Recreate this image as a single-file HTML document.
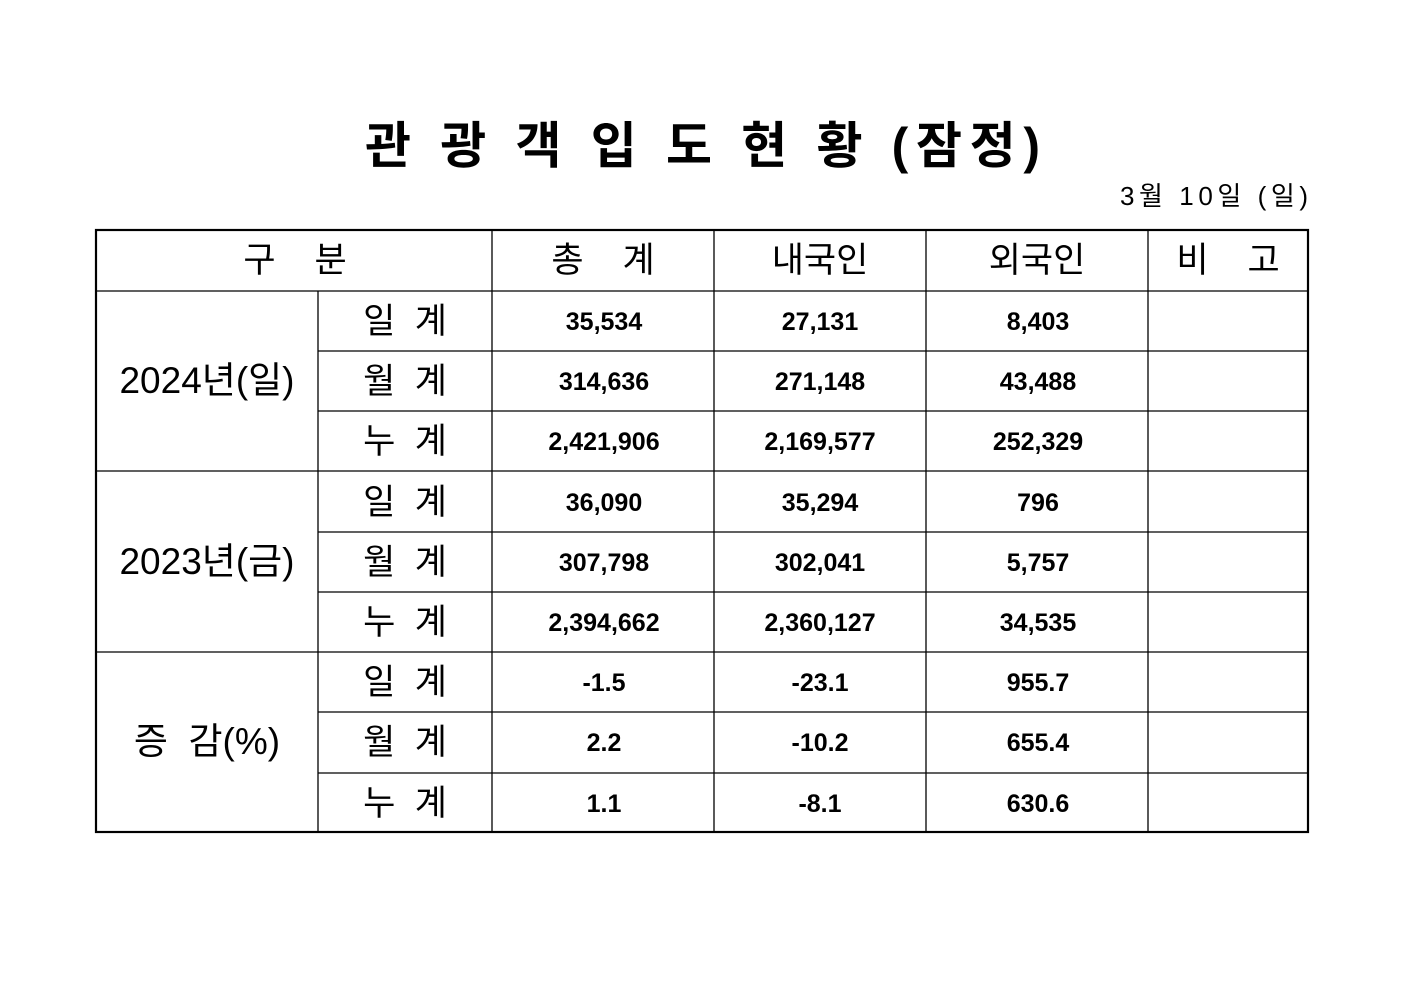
<!DOCTYPE html>
<html><head><meta charset="utf-8"><style>
html,body{margin:0;padding:0;background:#fff;}
svg{display:block}
text{font-family:"Liberation Sans","Noto Sans CJK KR","NanumGothic",sans-serif;fill:#000}
.h{font-size:35px}
.b{font-size:25px;font-weight:bold}
</style></head><body>
<svg width="1403" height="992" viewBox="0 0 1403 992" xmlns="http://www.w3.org/2000/svg">
<rect width="1403" height="992" fill="#fff"/>
<text x="365" y="163" font-size="50" font-weight="bold" textLength="675" lengthAdjust="spacing">관 광 객 입 도 현 황 (잠정)</text>
<text x="1120" y="205" font-size="26" textLength="188" lengthAdjust="spacing" xml:space="preserve">3월 10일 (일)</text>
<g stroke="#000" stroke-width="1.3" fill="none">
<line x1="96" y1="291" x2="1308" y2="291"/>
<line x1="318" y1="351" x2="1308" y2="351"/>
<line x1="318" y1="411" x2="1308" y2="411"/>
<line x1="96" y1="471" x2="1308" y2="471"/>
<line x1="318" y1="532" x2="1308" y2="532"/>
<line x1="318" y1="592" x2="1308" y2="592"/>
<line x1="96" y1="652" x2="1308" y2="652"/>
<line x1="318" y1="712" x2="1308" y2="712"/>
<line x1="318" y1="773" x2="1308" y2="773"/>
<line x1="318" y1="291" x2="318" y2="832"/>
<line x1="492" y1="230" x2="492" y2="832"/>
<line x1="714" y1="230" x2="714" y2="832"/>
<line x1="926" y1="230" x2="926" y2="832"/>
<line x1="1148" y1="230" x2="1148" y2="832"/>
<rect x="96" y="230" width="1212" height="602" stroke-width="2.2"/>
</g>
<g class="h" text-anchor="middle">
<text x="295" y="272" xml:space="preserve">구    분</text>
<text x="603" y="272" xml:space="preserve">총    계</text>
<text x="820" y="272">내국인</text>
<text x="1037" y="272">외국인</text>
<text x="1228" y="272" xml:space="preserve">비    고</text>
<text x="207" y="393" font-size="37">2024년(일)</text>
<text x="207" y="574" font-size="37">2023년(금)</text>
<text x="207" y="754" font-size="37" xml:space="preserve">증  감(%)</text>
<text x="405" y="333" xml:space="preserve">일  계</text>
<text x="405" y="393" xml:space="preserve">월  계</text>
<text x="405" y="453" xml:space="preserve">누  계</text>
<text x="405" y="514" xml:space="preserve">일  계</text>
<text x="405" y="574" xml:space="preserve">월  계</text>
<text x="405" y="634" xml:space="preserve">누  계</text>
<text x="405" y="694" xml:space="preserve">일  계</text>
<text x="405" y="754" xml:space="preserve">월  계</text>
<text x="405" y="815" xml:space="preserve">누  계</text>
</g>
<g class="b" text-anchor="middle">
<text x="604" y="330">35,534</text><text x="820" y="330">27,131</text><text x="1038" y="330">8,403</text>
<text x="604" y="390">314,636</text><text x="820" y="390">271,148</text><text x="1038" y="390">43,488</text>
<text x="604" y="450">2,421,906</text><text x="820" y="450">2,169,577</text><text x="1038" y="450">252,329</text>
<text x="604" y="511">36,090</text><text x="820" y="511">35,294</text><text x="1038" y="511">796</text>
<text x="604" y="571">307,798</text><text x="820" y="571">302,041</text><text x="1038" y="571">5,757</text>
<text x="604" y="631">2,394,662</text><text x="820" y="631">2,360,127</text><text x="1038" y="631">34,535</text>
<text x="604" y="691">-1.5</text><text x="820" y="691">-23.1</text><text x="1038" y="691">955.7</text>
<text x="604" y="751">2.2</text><text x="820" y="751">-10.2</text><text x="1038" y="751">655.4</text>
<text x="604" y="812">1.1</text><text x="820" y="812">-8.1</text><text x="1038" y="812">630.6</text>
</g>
</svg>
</body></html>
